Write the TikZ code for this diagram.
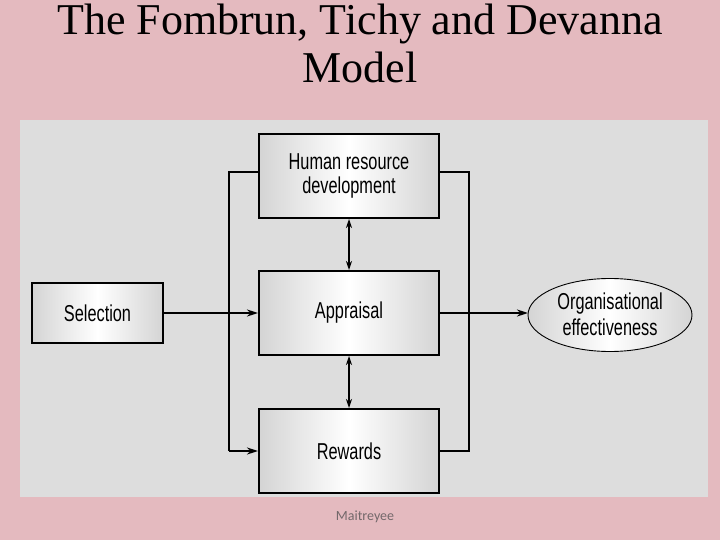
\documentclass[tikz,border=0pt]{standalone}
\usepackage{fontspec}
\setmainfont{Liberation Serif}
\newfontfamily\condfont[FakeStretch=0.71]{Liberation Sans}
\newfontfamily\footfont{Carlito}
\usetikzlibrary{shapes.geometric,arrows.meta}
\definecolor{pinkbg}{RGB}{228,186,191}
\definecolor{panelgray}{RGB}{221,221,221}
\definecolor{boxedge}{RGB}{212,212,212}
\definecolor{footgray}{RGB}{115,104,106}
\tikzset{
  blockbox/.style={draw=black, line width=2pt, left color=boxedge, right color=boxedge, middle color=white,
    minimum width=180pt, minimum height=84pt, inner sep=0pt, align=center,
    font=\condfont\fontsize{23}{24.5}\selectfont},
  selbox/.style={blockbox, minimum width=131pt, minimum height=60pt},
  outcome/.style={ellipse, draw=black, line width=0.9pt, left color=boxedge, right color=boxedge, middle color=white,
    minimum width=164pt, minimum height=73pt, inner sep=0pt, align=center,
    font=\condfont\fontsize{23}{25}\selectfont},
  link/.style={draw=black, line width=2pt},
  arrowlink/.style={link, -{Stealth[length=11pt,width=7pt]}},
  dualarrow/.style={link, line width=1.2pt, {Stealth[length=9pt,width=6pt]}-{Stealth[length=9pt,width=6pt]}},
  titletext/.style={font=\fontsize{44}{49}\selectfont, anchor=base, inner sep=0pt}
}
\begin{document}
\begin{tikzpicture}[x=1pt,y=-1pt]
  \fill[pinkbg] (0,0) rectangle (720,540);
  \useasboundingbox (0,0) rectangle (720,540);
  \fill[panelgray] (20,120) rectangle (708,497);

  \node[titletext] (t1) at (360,35) {The Fombrun, Tichy and Devanna};
  \node[titletext] (t2) at (360,83) {Model};

  \node[blockbox] (hrd) at (349,176) {Human resource\\development};
  \node[blockbox] (app) at (349,313) {\raisebox{-2pt}{Appraisal}};
  \node[blockbox] (rew) at (349,451) {\raisebox{-1pt}{Rewards}};
  \node[selbox] (sel) at (97.5,313) {\raisebox{-1pt}{Selection}};
  \node[outcome] (org) at (610,315) {\raisebox{2pt}{\shortstack{Organisational\\[1pt]effectiveness}}};

  \coordinate (lt) at (229,172);
  \coordinate (lb) at (229,451);
  \coordinate (rt) at (469,172);
  \coordinate (rb) at (469,451);
  \coordinate (oin) at (528,313);

  \draw[link] (lt -| hrd.west) -- (lt) -- (lb);
  \draw[arrowlink] (lb) -- (rew.west);
  \draw[link] (rt -| hrd.east) -- (rt) -- (rb) -- (rew.east);
  \draw[arrowlink] (sel.east) -- (app.west);
  \draw[arrowlink] (app.east) -- (oin);
  \draw[dualarrow] (hrd.south) -- (app.north);
  \draw[dualarrow] (app.south) -- (rew.north);

  \node[font=\footfont\fontsize{14}{16}\selectfont, text=footgray, inner sep=0pt] (foot) at (365,517) {Maitreyee};
\end{tikzpicture}
\end{document}
